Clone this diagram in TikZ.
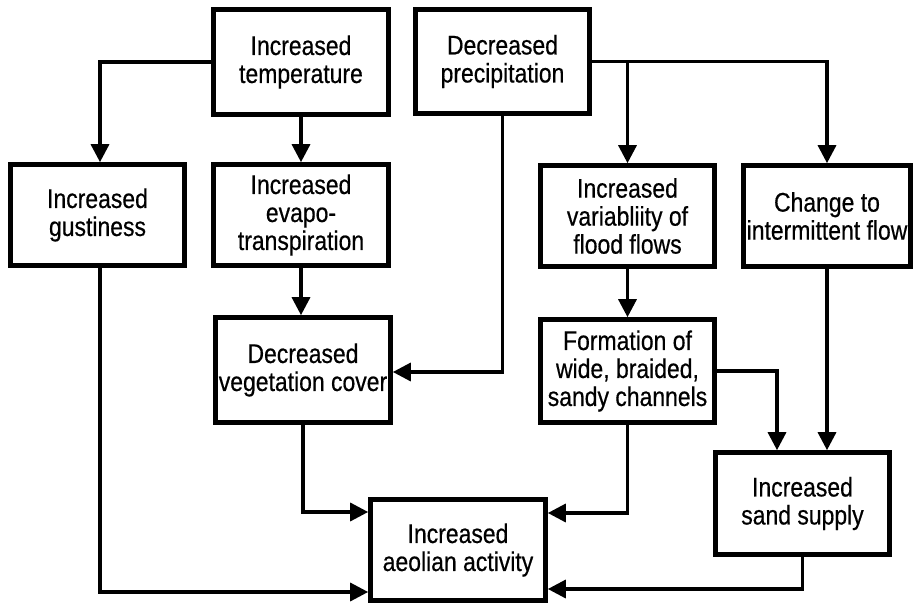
\documentclass[tikz,border=0pt]{standalone}
\usepackage{fontspec}
\setmainfont{Liberation Sans}[FakeStretch=0.85,FakeBold=0.5]
\usetikzlibrary{arrows.meta}
\begin{document}
\begin{tikzpicture}[x=1pt,y=-1pt,
  box/.style={draw, line width=4.6pt, inner sep=0pt, align=center,
    font=\fontsize{27}{28}\selectfont, minimum width=175pt, minimum height=105pt},
  arr/.style={line width=3.3pt, -{Triangle[length=18pt,width=18pt]}}]
\useasboundingbox (0,0) rectangle (915,604);
\node[box] (temp) at (301,62) {Increased\\temperature};
\node[box, minimum width=174pt, minimum height=104pt] (prec) at (502.5,61.5) {Decreased\\precipitation};
\node[box, minimum width=174pt, minimum height=101pt] (gust) at (97.5,215) {Increased\\gustiness};
\node[box, minimum height=101pt] (evap) at (301,215) {Increased\\evapo-\\transpiration};
\node[box, minimum width=174pt, minimum height=101pt] (var) at (627.5,216) {Increased\\variabliity of\\flood flows};
\node[box, minimum width=167pt, minimum height=101pt] (inter) at (827,216) {Change to\\intermittent flow};
\node[box] (veg) at (303,370) {Decreased\\vegetation cover};
\node[box, minimum width=174pt, minimum height=103pt] (form) at (627.5,371) {Formation of\\wide, braided,\\sandy channels};
\node[box, minimum width=174pt, minimum height=102pt] (sand) at (802.5,503.5) {Increased\\sand supply};
\node[box, minimum height=101pt] (aeol) at (458,550) {Increased\\aeolian activity};

\draw[arr] (temp.west) -| ([xshift=2.5pt]gust.north);
\draw[arr] (temp.south) -- (evap.north);
\draw[arr] (evap.south) -- (evap.south |- veg.north);
\draw[arr] (prec.east) -| (inter.north);
\draw[arr] (prec.east -| var.north) -- (var.north);
\draw[arr] (prec.south) |- ([yshift=-2pt]veg.east);
\draw[arr] (var.south) -- (form.north);
\draw[arr] (form.east) -| ([xshift=-25.5pt]sand.north);
\draw[arr] (inter.south) -- (inter.south |- sand.north);
\draw[arr] (sand.south) |- ([yshift=-39pt]aeol.east);
\draw[arr] (form.south) |- ([yshift=37pt]aeol.east);
\draw[arr] (veg.south) |- ([yshift=38pt]aeol.west);
\draw[arr] ([xshift=2.5pt]gust.south) |- ([yshift=-42pt]aeol.west);
\end{tikzpicture}
\end{document}
